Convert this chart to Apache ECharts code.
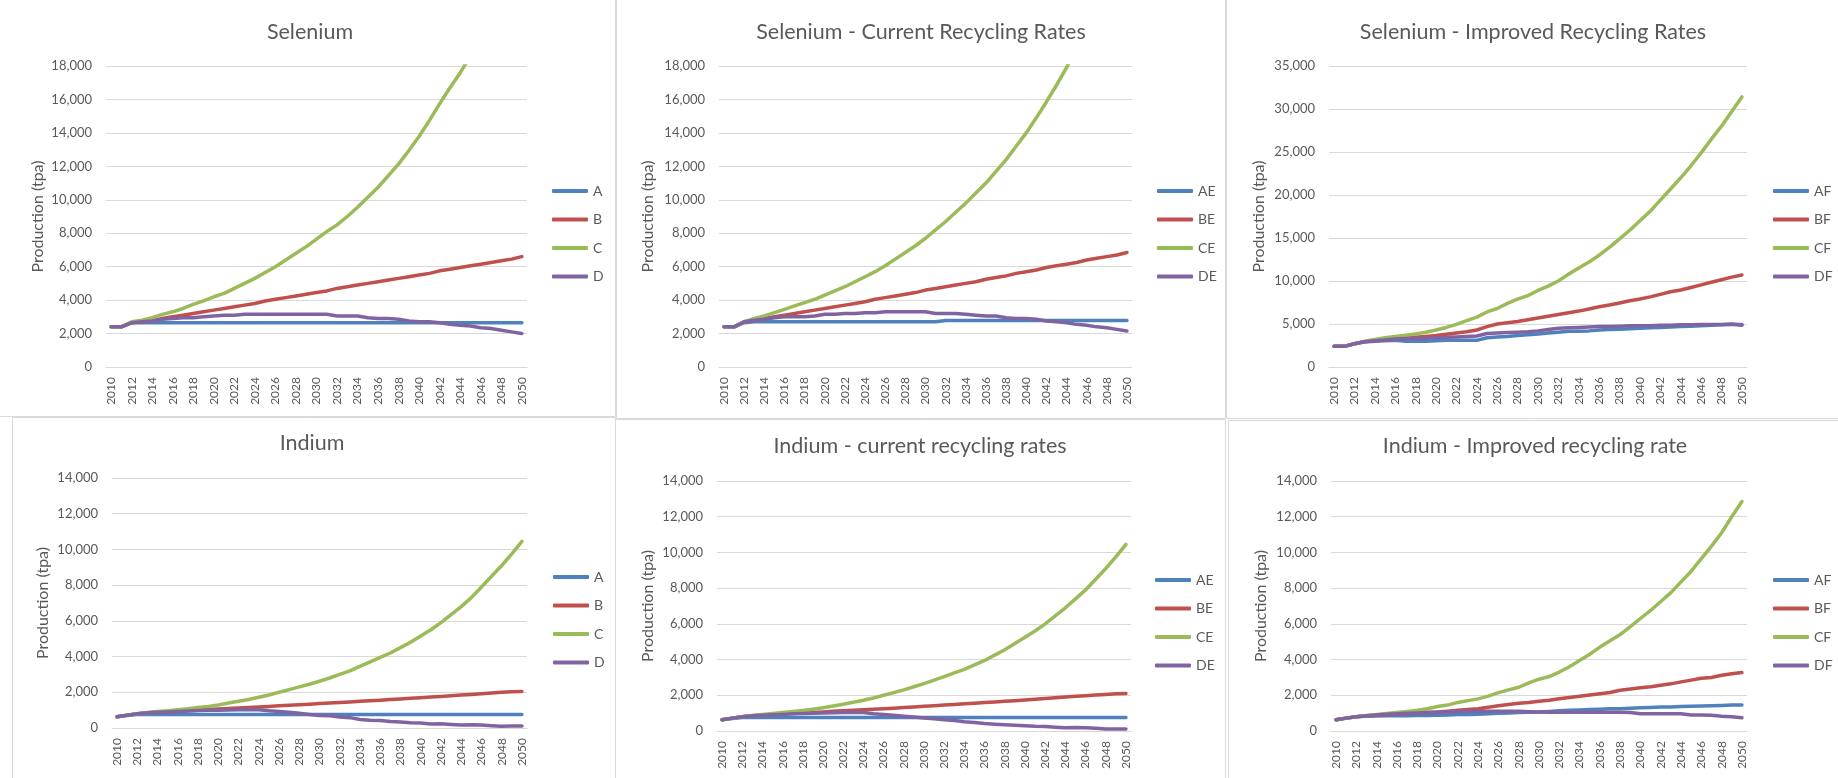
<!DOCTYPE html>
<html>
<head>
<meta charset="utf-8">
<script src="https://cdn.jsdelivr.net/npm/echarts@6/dist/echarts.min.js"></script>
<style>
  html, body { margin: 0; padding: 0; background: #ffffff; }
  #chart { width: 1838px; height: 778px; }
</style>
</head>
<body>
<div id="chart"></div>
<script>
// Years on the category axis
const years = [
  '2010','2011','2012','2013','2014','2015','2016','2017','2018','2019',
  '2020','2021','2022','2023','2024','2025','2026','2027','2028','2029',
  '2030','2031','2032','2033','2034','2035','2036','2037','2038','2039',
  '2040','2041','2042','2043','2044','2045','2046','2047','2048','2049',
  '2050'
];

// Selenium production (tpa), scenarios A-D
const seleniumA = [
  2400, 2400, 2650, 2650, 2650, 2650, 2650, 2650, 2650, 2650,
  2650, 2650, 2650, 2650, 2650, 2650, 2650, 2650, 2650, 2650,
  2650, 2650, 2650, 2650, 2650, 2650, 2650, 2650, 2650, 2650,
  2650, 2650, 2650, 2650, 2650, 2650, 2650, 2650, 2650, 2650,
  2650
];
const seleniumB = [
  2400, 2400, 2650, 2700, 2750, 2900, 3000, 3100, 3200, 3300,
  3400, 3500, 3600, 3700, 3800, 3950, 4050, 4150, 4250, 4350,
  4450, 4550, 4700, 4800, 4900, 5000, 5100, 5200, 5300, 5400,
  5500, 5600, 5750, 5850, 5950, 6050, 6150, 6250, 6350, 6450,
  6600
];
const seleniumC = [
  2400, 2400, 2700, 2800, 2950, 3150, 3300, 3500, 3750, 3950,
  4200, 4400, 4700, 5000, 5300, 5650, 6000, 6400, 6800, 7200,
  7650, 8100, 8500, 9000, 9550, 10150, 10750, 11450, 12150, 12950,
  13800, 14750, 15750, 16700, 17600, 18600, 19700, 20800, 22000, 23300,
  24600
];
const seleniumD = [
  2400, 2400, 2650, 2700, 2750, 2850, 2900, 2950, 2950, 3000,
  3050, 3100, 3100, 3150, 3150, 3150, 3150, 3150, 3150, 3150,
  3150, 3150, 3050, 3050, 3050, 2950, 2900, 2900, 2850, 2750,
  2700, 2700, 2650, 2550, 2500, 2450, 2350, 2300, 2200, 2100,
  2000
];

// Selenium with current recycling rates
const seleniumAE = [
  2400, 2400, 2650, 2700, 2700, 2700, 2700, 2700, 2700, 2700,
  2700, 2700, 2700, 2700, 2700, 2700, 2700, 2700, 2700, 2700,
  2700, 2700, 2780, 2780, 2780, 2780, 2780, 2780, 2780, 2780,
  2780, 2780, 2780, 2780, 2780, 2780, 2780, 2780, 2780, 2780,
  2780
];
const seleniumBE = [
  2400, 2400, 2700, 2800, 2900, 3000, 3100, 3200, 3300, 3400,
  3500, 3600, 3700, 3800, 3900, 4050, 4150, 4250, 4350, 4450,
  4600, 4700, 4800, 4900, 5000, 5100, 5250, 5350, 5450, 5600,
  5700, 5800, 5950, 6050, 6150, 6250, 6400, 6500, 6600, 6700,
  6850
];
const seleniumCE = [
  2400, 2400, 2700, 2900, 3050, 3250, 3450, 3650, 3850, 4050,
  4300, 4550, 4800, 5100, 5400, 5700, 6050, 6450, 6850, 7250,
  7700, 8200, 8700, 9250, 9800, 10400, 11000, 11700, 12400, 13200,
  14000, 14900, 15850, 16850, 17900, 19000, 20100, 21300, 22600, 23900,
  25300
];
const seleniumDE = [
  2400, 2400, 2700, 2800, 2850, 2950, 3000, 3000, 3000, 3050,
  3150, 3150, 3200, 3200, 3250, 3250, 3300, 3300, 3300, 3300,
  3300, 3200, 3200, 3200, 3150, 3100, 3050, 3050, 2950, 2900,
  2900, 2850, 2750, 2700, 2650, 2550, 2500, 2400, 2350, 2250,
  2150
];

// Selenium with improved recycling rates
const seleniumAF = [
  2400, 2400, 2700, 2900, 3000, 3050, 3100, 3000, 3000, 3000,
  3050, 3100, 3100, 3100, 3100, 3400, 3500, 3550, 3650, 3750,
  3850, 3950, 4050, 4150, 4150, 4200, 4300, 4350, 4400, 4450,
  4500, 4550, 4600, 4650, 4700, 4750, 4800, 4850, 4900, 4950,
  4950
];
const seleniumBF = [
  2400, 2400, 2700, 2950, 3050, 3150, 3250, 3350, 3450, 3550,
  3650, 3800, 3950, 4100, 4300, 4700, 5000, 5150, 5300, 5500,
  5700, 5900, 6100, 6300, 6500, 6750, 7000, 7200, 7450, 7700,
  7900, 8150, 8450, 8750, 8950, 9250, 9550, 9850, 10150, 10450,
  10700
];
const seleniumCF = [
  2400, 2400, 2700, 3000, 3200, 3400, 3550, 3700, 3850, 4050,
  4300, 4600, 4950, 5400, 5800, 6400, 6800, 7400, 7900, 8300,
  8900, 9400, 10000, 10800, 11500, 12200, 13000, 13900, 14900, 15900,
  17000, 18100, 19400, 20700, 22000, 23400, 24900, 26500, 28000, 29700,
  31400
];
const seleniumDF = [
  2400, 2400, 2700, 2950, 3050, 3150, 3250, 3300, 3300, 3350,
  3400, 3450, 3500, 3550, 3600, 3900, 3950, 4000, 4050, 4100,
  4200, 4350, 4500, 4550, 4600, 4650, 4700, 4700, 4750, 4800,
  4800, 4800, 4850, 4850, 4900, 4900, 4950, 4950, 4950, 5000,
  4850
];

// Indium production (tpa), scenarios A-D
const indiumA = [
  630, 700, 760, 760, 760, 760, 760, 760, 760, 760,
  760, 760, 760, 760, 760, 760, 760, 760, 760, 760,
  760, 760, 760, 760, 760, 760, 760, 760, 760, 760,
  760, 760, 760, 760, 760, 760, 760, 760, 760, 760,
  760
];
const indiumB = [
  630, 720, 800, 850, 880, 910, 940, 970, 1000, 1030,
  1060, 1090, 1120, 1150, 1180, 1210, 1240, 1270, 1300, 1330,
  1370, 1400, 1430, 1460, 1500, 1530, 1560, 1600, 1630, 1670,
  1700, 1740, 1770, 1810, 1850, 1880, 1920, 1960, 2000, 2030,
  2050
];
const indiumC = [
  630, 720, 800, 870, 920, 970, 1020, 1080, 1150, 1210,
  1290, 1400, 1500, 1600, 1720, 1850, 2000, 2150, 2300, 2450,
  2620, 2800, 3000, 3200, 3450, 3700, 3950, 4200, 4500, 4800,
  5150, 5500, 5900, 6350, 6800, 7300, 7900, 8500, 9100, 9750,
  10450
];
const indiumD = [
  630, 720, 800, 850, 880, 900, 930, 950, 980, 1000,
  1000, 1010, 1020, 1030, 1020, 960, 930, 880, 820, 760,
  700, 680, 620, 580, 480, 440, 420, 360, 340, 300,
  280, 230, 240, 200, 170, 180, 170, 130, 100, 110,
  110
];

// Indium with current recycling rates
const indiumAE = [
  630, 700, 760, 760, 760, 760, 760, 760, 760, 760,
  760, 760, 760, 760, 760, 760, 760, 760, 760, 760,
  760, 760, 760, 760, 760, 760, 760, 760, 760, 760,
  760, 760, 760, 760, 760, 760, 760, 760, 760, 760,
  760
];
const indiumBE = [
  630, 720, 800, 850, 890, 920, 950, 980, 1010, 1040,
  1070, 1100, 1130, 1160, 1190, 1220, 1250, 1280, 1320, 1350,
  1390, 1420, 1450, 1490, 1520, 1560, 1590, 1630, 1670, 1700,
  1740, 1780, 1820, 1860, 1900, 1940, 1980, 2010, 2050, 2080,
  2100
];
const indiumCE = [
  630, 720, 800, 870, 930, 980, 1030, 1090, 1150, 1220,
  1300, 1400, 1500, 1610, 1720, 1850, 2000, 2150, 2300, 2480,
  2650, 2850, 3050, 3250, 3450, 3700, 3950, 4250, 4550, 4900,
  5250, 5600, 6000, 6450, 6900, 7400, 7900, 8500, 9100, 9750,
  10450
];
const indiumDE = [
  630, 720, 800, 850, 880, 910, 930, 960, 980, 1000,
  1010, 1020, 1030, 1040, 1030, 970, 930, 880, 830, 780,
  730, 690, 630, 590, 520, 480, 420, 380, 350, 320,
  290, 260, 250, 210, 180, 190, 180, 150, 110, 110,
  110
];

// Indium with improved recycling rate
const indiumAF = [
  630, 720, 800, 820, 840, 850, 860, 860, 870, 870,
  880, 900, 920, 930, 940, 960, 990, 1010, 1030, 1050,
  1060, 1090, 1130, 1160, 1180, 1200, 1220, 1240, 1250, 1270,
  1300, 1320, 1340, 1350, 1370, 1390, 1400, 1410, 1430, 1450,
  1460
];
const indiumBF = [
  630, 720, 800, 850, 880, 920, 950, 980, 1000, 1030,
  1070, 1110, 1160, 1200, 1250, 1330, 1410, 1480, 1560, 1600,
  1660, 1720, 1800, 1870, 1940, 2010, 2090, 2160, 2280, 2350,
  2420, 2480, 2560, 2640, 2750, 2850, 2950, 3000, 3120, 3200,
  3270
];
const indiumCF = [
  630, 720, 800, 870, 930, 980, 1030, 1090, 1160, 1250,
  1370, 1450, 1600, 1700, 1800, 1950, 2150, 2300, 2450, 2700,
  2900, 3050, 3300, 3600, 3950, 4300, 4700, 5050, 5400, 5850,
  6300, 6750, 7250, 7750, 8350, 8950, 9650, 10350, 11100, 12000,
  12850
];
const indiumDF = [
  630, 720, 800, 860, 900, 940, 970, 990, 1010, 1030,
  1050, 1070, 1090, 1100, 1100, 1100, 1110, 1110, 1100, 1080,
  1060, 1050, 1050, 1050, 1050, 1050, 1060, 1050, 1050, 1040,
  970, 960, 960, 960, 960, 900, 890, 880, 830, 800,
  740
];

// Chart titles and legend names
const titles = [
  'Selenium',
  'Selenium - Current Recycling Rates',
  'Selenium - Improved Recycling Rates',
  'Indium',
  'Indium - current recycling rates',
  'Indium - Improved recycling rate'
];
const namesBase = ['A', 'B', 'C', 'D'];
const namesCurrent = ['AE', 'BE', 'CE', 'DE'];
const namesImproved = ['AF', 'BF', 'CF', 'DF'];

// Value-axis ranges
const axisMax = [18000, 18000, 35000, 14000, 14000, 14000];
const axisStep = [2000, 2000, 5000, 2000, 2000, 2000];

// ---- Layout and styling ----
const FONT = 'Lato, "Open Sans", sans-serif';
const TEXT = '#595959';
const GRIDLINE = '#D9D9D9';
const COLORS = ['#4F81BD', '#C0504D', '#9BBB59', '#8064A2'];

const panels = [
  { names: namesBase,     series: [seleniumA, seleniumB, seleniumC, seleniumD],
    grid: { left: 106, top: 66, width: 421, height: 301 }, title: [310, 21], legend: [552, 184], nameGap: 60 },
  { names: namesCurrent,  series: [seleniumAE, seleniumBE, seleniumCE, seleniumDE],
    grid: { left: 719, top: 66, width: 413, height: 301 }, title: [921, 21], legend: [1157, 184], nameGap: 63 },
  { names: namesImproved, series: [seleniumAF, seleniumBF, seleniumCF, seleniumDF],
    grid: { left: 1329, top: 66, width: 418, height: 301 }, title: [1533, 21], legend: [1773, 184], nameGap: 62 },
  { names: namesBase,     series: [indiumA, indiumB, indiumC, indiumD],
    grid: { left: 112, top: 478, width: 415, height: 250 }, title: [312, 432], legend: [553, 570], nameGap: 61 },
  { names: namesCurrent,  series: [indiumAE, indiumBE, indiumCE, indiumDE],
    grid: { left: 717, top: 481, width: 414, height: 250 }, title: [920, 435], legend: [1155, 573], nameGap: 61 },
  { names: namesImproved, series: [indiumAF, indiumBF, indiumCF, indiumDF],
    grid: { left: 1331, top: 481, width: 416, height: 250 }, title: [1535, 435], legend: [1773, 573], nameGap: 62 }
];

// Light frames around each chart block
const frames = [
  [-1, -1, 616, 417],
  [616, -1, 609, 419],
  [1226, -1, 620, 419],
  [12, 417, 603, 370],
  [615, 419, 610, 370],
  [1228, 420, 620, 370]
];

const fmt = v => v.toLocaleString('en-US');

const option = {
  backgroundColor: '#ffffff',
  animation: false,
  title: [],
  legend: [],
  grid: [],
  xAxis: [],
  yAxis: [],
  series: [],
  graphic: frames.map(f => ({
    type: 'rect', silent: true, z: -10,
    shape: { x: f[0] + 0.5, y: f[1] + 0.5, width: f[2], height: f[3] },
    style: { fill: 'none', stroke: '#D9D9D9', lineWidth: 1 }
  }))
};

panels.forEach((p, i) => {
  option.title.push({
    text: titles[i], left: p.title[0], top: p.title[1], textAlign: 'center', padding: 0,
    textStyle: { fontFamily: FONT, fontSize: 21.5, fontWeight: 'normal', color: TEXT }
  });
  option.legend.push({
    orient: 'vertical', left: p.legend[0], top: p.legend[1], padding: 0,
    data: p.names, icon: 'roundRect', itemWidth: 36, itemHeight: 4, itemGap: 14.5,
    selectedMode: false,
    textStyle: { fontFamily: FONT, fontSize: 14, color: TEXT, lineHeight: 14 }
  });
  option.grid.push(Object.assign({ containLabel: false }, p.grid));
  option.xAxis.push({
    type: 'category', gridIndex: i, data: years, boundaryGap: true,
    axisLine: { lineStyle: { color: GRIDLINE, width: 1 } },
    axisTick: { show: false },
    axisLabel: { interval: 1, rotate: 90, margin: 10, fontFamily: FONT, fontSize: 12, color: TEXT }
  });
  option.yAxis.push({
    type: 'value', gridIndex: i, min: 0, max: axisMax[i], interval: axisStep[i],
    name: 'Production (tpa)', nameLocation: 'middle', nameGap: p.nameGap,
    nameTextStyle: { fontFamily: FONT, fontSize: 16, color: TEXT },
    axisLine: { show: false }, axisTick: { show: false },
    splitLine: { lineStyle: { color: GRIDLINE, width: 1 } },
    axisLabel: { margin: 14, fontFamily: FONT, fontSize: 13, color: TEXT, formatter: fmt }
  });
  p.names.forEach((name, k) => {
    option.series.push({
      name, type: 'line', xAxisIndex: i, yAxisIndex: i, data: p.series[k],
      showSymbol: false, symbol: 'none', clip: true,
      color: COLORS[k],
      lineStyle: { width: 3.5, color: COLORS[k], cap: 'round', join: 'round' }
    });
  });
});

const chart = echarts.init(document.getElementById('chart'), null, { renderer: 'canvas' });
chart.setOption(option);
</script>
</body>
</html>
